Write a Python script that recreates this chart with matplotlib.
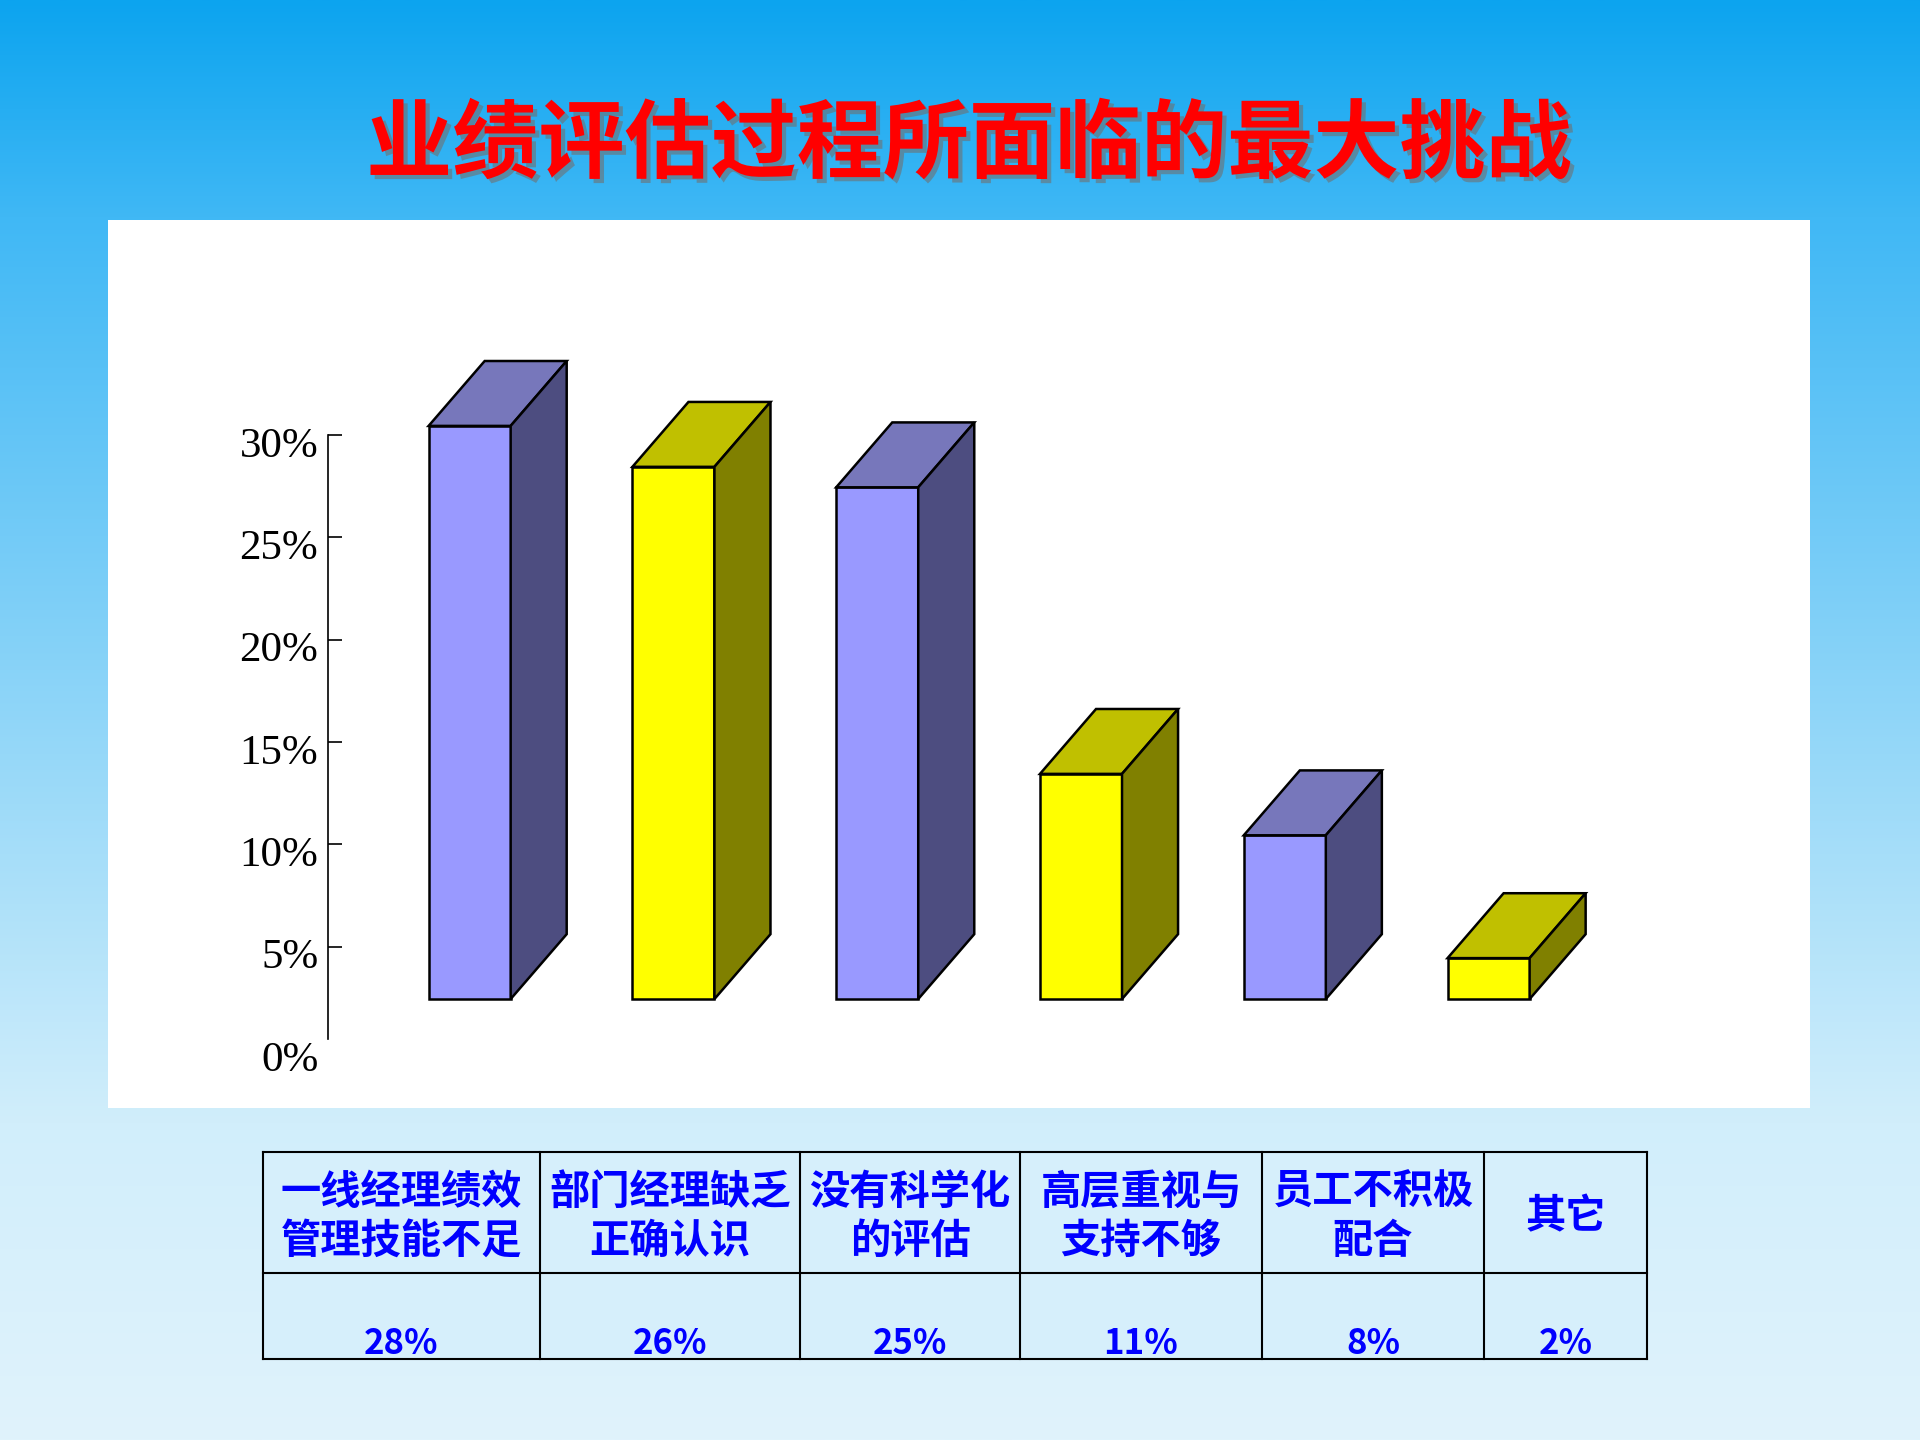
import numpy as np
import matplotlib.pyplot as plt
from matplotlib.patches import Polygon, Rectangle
from matplotlib.transforms import ScaledTranslation
import matplotlib.patheffects as pe

plt.rcParams['font.family'] = ['Noto Sans CJK SC', 'DejaVu Sans']

title = '业绩评估过程所面临的最大挑战'
categories = ['一线经理绩效\n管理技能不足', '部门经理缺乏\n正确认识', '没有科学化\n的评估',
              '高层重视与\n支持不够', '员工不积极\n配合', '其它']
values = [28, 26, 25, 11, 8, 2]
yticks = [0, 5, 10, 15, 20, 25, 30]

front_cols = ['#9999ff', '#ffff00']
top_cols = ['#7777bb', '#c0c000']
side_cols = ['#4d4d80', '#808000']

W, H = 1920, 1440
fig = plt.figure(figsize=(19.2, 14.4), dpi=100)

# background: sky gradient, white panel
bg = fig.add_axes([0, 0, 1, 1])
bg.set_xlim(0, W)
bg.set_ylim(H, 0)
bg.axis('off')
t = np.linspace(0, 1, 500)
stops = [0, 0.15, 0.78, 1]
rgb = np.array([[12, 164, 239], [64, 184, 245], [209, 238, 251], [224, 243, 252]]) / 255
grad = np.stack([np.interp(t, stops, rgb[:, i]) for i in range(3)], axis=1)
bg.imshow(grad[:, None, :], extent=[0, W, H, 0], aspect='auto', zorder=0)
bg.add_patch(Rectangle((108, 220), 1702, 888, fc='white', ec='none', zorder=1))

bg.text(969, 146, title, fontsize=62, weight='bold', color='#ff0000',
        ha='center', va='center', zorder=3,
        path_effects=[pe.withSimplePatchShadow(offset=(3, -3), shadow_rgbFace='#707070', alpha=0.6)])

# chart: 3d-looking columns
px_per_pct = 20.47
ax = fig.add_axes([328 / W, 1 - 1049 / H, 1344 / W, 40 * px_per_pct / H])
ax.set_xlim(-0.695, 5.9)
ax.set_ylim(0, 40)
ax.patch.set_visible(False)

base = 2.44      # floor of the columns
bw = 0.4025      # front width
dx, dy = 0.275, 3.17   # depth offset
x = np.arange(len(values))
for i, v in enumerate(values):
    k = i % 2
    ax.bar(x[i], v, bw, bottom=base, color=front_cols[k], edgecolor='black', linewidth=1.8, zorder=3)
    l, r = x[i] - bw / 2, x[i] + bw / 2
    top = base + v
    ax.add_patch(Polygon([(l, top), (r, top), (r + dx, top + dy), (l + dx, top + dy)],
                         closed=True, fc=top_cols[k], ec='black', lw=1.8, zorder=3))
    ax.add_patch(Polygon([(r, base), (r + dx, base + dy), (r + dx, top + dy), (r, top)],
                         closed=True, fc=side_cols[k], ec='black', lw=1.8, zorder=3))

for s in ['top', 'right', 'bottom']:
    ax.spines[s].set_visible(False)
ax.spines['left'].set_bounds(0.5, 30)
ax.spines['left'].set_linewidth(1.2)
ax.set_xticks([])
ax.set_yticks(yticks)
ax.set_yticklabels([f'{v}%' for v in yticks], family='Liberation Serif', fontsize=31)
ax.tick_params(axis='y', direction='in', length=10, width=1.2, pad=7)
ax.yaxis.get_major_ticks()[0].tick1line.set_visible(False)
shift = ScaledTranslation(0, -5 / 72, fig.dpi_scale_trans)
for lbl in ax.get_yticklabels():
    lbl.set_transform(lbl.get_transform() + shift)

# table under the chart
col_edges = [263, 540, 800, 1020, 1262, 1484, 1647]
row_edges = [1152, 1273, 1359]
bg.add_patch(Rectangle((col_edges[0], row_edges[0]), col_edges[-1] - col_edges[0],
                       row_edges[-1] - row_edges[0], fc='#d6effb', ec='none', zorder=2))
for xe in col_edges:
    bg.plot([xe, xe], [row_edges[0], row_edges[-1]], color='black', lw=1.5, zorder=3)
for ye in row_edges:
    bg.plot([col_edges[0], col_edges[-1]], [ye, ye], color='black', lw=1.5, zorder=3)
for i, (c, v) in enumerate(zip(categories, values)):
    cx = (col_edges[i] + col_edges[i + 1]) / 2
    bg.text(cx, 1217, c, ha='center', va='center', fontsize=29, weight='bold',
            color='#0000ff', linespacing=1.25, zorder=4)
    bg.text(cx, 1343, f'{v}%', ha='center', va='center', fontsize=25, weight='bold',
            color='#0000ff', zorder=4)

fig.savefig('out.png', dpi=100)
